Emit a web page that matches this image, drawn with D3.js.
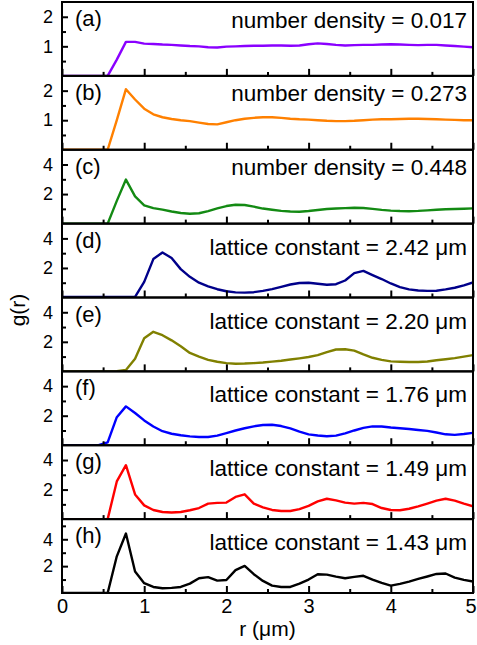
<!DOCTYPE html>
<html><head><meta charset="utf-8">
<script src="https://cdn.jsdelivr.net/npm/d3@7"></script>
<style>
html,body{margin:0;padding:0;background:#fff;}
svg{display:block;}
text{font-family:"Liberation Sans",Arial,Helvetica,sans-serif;fill:#000;}
</style></head>
<body><svg id="c" width="477" height="645"></svg>
<script>
// ---- data (r sampled every 1/9 µm) ----
const rValues = d3.range(46).map(k => k / 9);
const gA = [0,0,0,0,0,0,0.55,1.15,1.15,1.09,1.08,1.06,1.05,1.03,1.01,1.0,0.97,0.96,0.99,1.0,1.01,1.02,1.02,1.03,1.03,1.02,1.03,1.07,1.1,1.08,1.05,1.03,1.04,1.05,1.05,1.06,1.07,1.06,1.05,1.04,1.05,1.05,1.03,1.01,0.99,0.97];
const gB = [0,0,0,0,0,0,1.0,2.05,1.7,1.39,1.2,1.1,1.04,1.0,0.97,0.92,0.87,0.86,0.93,1.0,1.05,1.08,1.1,1.1,1.08,1.05,1.03,1.02,1.0,0.98,0.97,0.97,0.98,1.0,1.02,1.03,1.03,1.04,1.05,1.05,1.04,1.03,1.02,1.01,1.0,1.0];
const gC = [0,0,0,0,0,0,1.54,2.98,1.84,1.24,1.05,0.95,0.82,0.72,0.67,0.7,0.85,1.03,1.19,1.28,1.26,1.15,1.02,0.94,0.86,0.82,0.8,0.85,0.92,0.99,1.02,1.05,1.07,1.06,1.0,0.93,0.88,0.85,0.84,0.86,0.9,0.94,0.97,0.99,1.01,1.03];
const gD = [0.03,0.03,0.03,0.03,0.03,0.03,0.03,0.03,0.05,1.06,2.6,3.05,2.67,1.92,1.4,1.0,0.75,0.56,0.42,0.35,0.33,0.36,0.45,0.57,0.72,0.88,0.98,1.0,0.93,0.86,0.9,1.15,1.65,1.8,1.52,1.25,0.95,0.7,0.55,0.47,0.45,0.46,0.55,0.66,0.82,1.02];
const gE = [0,0,0,0,0,0,0.02,0.1,0.85,2.24,2.68,2.45,2.1,1.7,1.25,1.0,0.78,0.65,0.56,0.52,0.53,0.56,0.6,0.66,0.72,0.8,0.88,0.97,1.1,1.3,1.48,1.5,1.4,1.15,0.92,0.78,0.68,0.65,0.63,0.63,0.67,0.75,0.82,0.9,1.0,1.1];
const gF = [0,0,0,0,0,0.2,1.9,2.63,2.18,1.68,1.27,0.95,0.78,0.68,0.6,0.56,0.56,0.65,0.82,1.0,1.15,1.28,1.37,1.39,1.3,1.14,0.92,0.74,0.66,0.61,0.65,0.8,1.0,1.18,1.28,1.27,1.2,1.15,1.1,1.03,0.97,0.86,0.74,0.7,0.76,0.84];
const gG = [0,0,0,0,0,0,2.55,3.65,1.67,0.93,0.62,0.48,0.45,0.48,0.6,0.75,1.05,1.1,1.12,1.5,1.68,1.05,0.8,0.62,0.55,0.55,0.68,0.9,1.2,1.38,1.27,1.12,1.05,1.1,1.02,0.75,0.62,0.6,0.7,0.86,1.05,1.25,1.38,1.25,1.05,0.87];
const gH = [0,0,0,0,0,0,2.73,4.43,1.6,0.73,0.45,0.35,0.38,0.45,0.7,1.1,1.18,0.92,0.97,1.7,2.02,1.4,0.9,0.55,0.45,0.45,0.7,1.0,1.4,1.37,1.22,1.1,1.2,1.28,1.0,0.75,0.55,0.68,0.85,1.05,1.23,1.42,1.45,1.15,0.98,0.85];

const series = [gA, gB, gC, gD, gE, gF, gG, gH];
const panelLabels = ["(a)","(b)","(c)","(d)","(e)","(f)","(g)","(h)"];
const panelTexts = ["number density = 0.017","number density = 0.273","number density = 0.448",
  "lattice constant = 2.42 \u03bcm","lattice constant = 2.20 \u03bcm","lattice constant = 1.76 \u03bcm",
  "lattice constant = 1.49 \u03bcm","lattice constant = 1.43 \u03bcm"];
const colors = ["#8a00ff","#ff8000","#138a13","#00008a","#808000","#0000ff","#ff0000","#000000"];
const yMax = [2.5,2.5,5,5,5,5,5,5.5];
const yMajor = [[1,2],[1,2],[2,4],[2,4],[2,4],[2,4],[2,4],[2,4]];
const yMinor = [[0.5,1.5],[0.5,1.5],[1,3],[1,3],[1,3],[1,3],[1,3],[1,3,5]];
const xMajor = [0,1,2,3,4,5];
const xMinor = [0.5,1.5,2.5,3.5,4.5];
const xLabel = "r (\u03bcm)";
const yLabel = "g(r)";

// ---- layout ----
const L = 62, R = 473, T = 2, B = 593;
const nP = series.length;
const pH = (B - T) / nP;
const svg = d3.select("#c");
const x = d3.scaleLinear().domain([0,5]).range([L,R]);

series.forEach((g, i) => {
  const top = T + i * pH, bot = top + pH;
  const y = d3.scaleLinear().domain([0, yMax[i]]).range([bot, top]);
  const p = svg.append("g");
  const cid = "clip" + i;
  svg.append("clipPath").attr("id", cid).append("rect")
    .attr("x", L).attr("y", top).attr("width", R - L).attr("height", pH);

  // data line
  p.append("path").datum(rValues.map((rv, k) => [rv, g[k]]))
    .attr("clip-path", "url(#" + cid + ")")
    .attr("fill","none").attr("stroke", colors[i]).attr("stroke-width", 2.4)
    .attr("stroke-linejoin","round")
    .attr("d", d3.line().x(d => x(d[0])).y(d => y(d[1])));

  // x ticks (inward)
  const xa = p.append("g").attr("transform", `translate(0,${bot})`)
    .call(d3.axisBottom(x).tickValues(xMajor).tickSize(-7).tickFormat(i === nP-1 ? d3.format("d") : ""));
  xa.select(".domain").remove();
  xa.selectAll("line").attr("stroke","#000").attr("stroke-width",2);
  xa.selectAll("text").attr("dy", null).attr("y", 20).attr("font-size", 20).attr("fill","#000")
    .attr("dx", d => d === 5 ? -2.5 : 0);
  const xm = p.append("g").attr("transform", `translate(0,${bot})`)
    .call(d3.axisBottom(x).tickValues(xMinor).tickSize(-4).tickFormat(""));
  xm.select(".domain").remove();
  xm.selectAll("line").attr("stroke","#000").attr("stroke-width",2);

  // y ticks (inward)
  const ya = p.append("g").attr("transform", `translate(${L},0)`)
    .call(d3.axisLeft(y).tickValues(yMajor[i]).tickSize(-6).tickPadding(10).tickFormat(d3.format("d")));
  ya.select(".domain").remove();
  ya.selectAll("line").attr("stroke","#000").attr("stroke-width",2);
  ya.selectAll("text").attr("font-size", 18).attr("fill","#000").attr("x", -9);
  const ym = p.append("g").attr("transform", `translate(${L},0)`)
    .call(d3.axisLeft(y).tickValues(yMinor[i]).tickSize(-4).tickFormat(""));
  ym.select(".domain").remove();
  ym.selectAll("line").attr("stroke","#000").attr("stroke-width",2);

  // frame
  p.append("rect").attr("x", L).attr("y", top).attr("width", R - L).attr("height", pH)
    .attr("fill","none").attr("stroke","#000").attr("stroke-width",2);

  // labels
  p.append("text").attr("x", 75).attr("y", top + 24).attr("font-size", 22).text(panelLabels[i]);
  p.append("text").attr("x", 467).attr("y", top + (i < 3 ? 25.5 : 31)).attr("font-size", 22.5)
    .attr("text-anchor","end").text(panelTexts[i]);
});

svg.append("text").attr("x", (L + R) / 2).attr("y", 636).attr("text-anchor","middle")
  .attr("font-size", 21).text(xLabel);
svg.append("text").attr("transform","translate(25,310) rotate(-90)").attr("text-anchor","middle")
  .attr("font-size", 21).text(yLabel);
</script></body></html>
